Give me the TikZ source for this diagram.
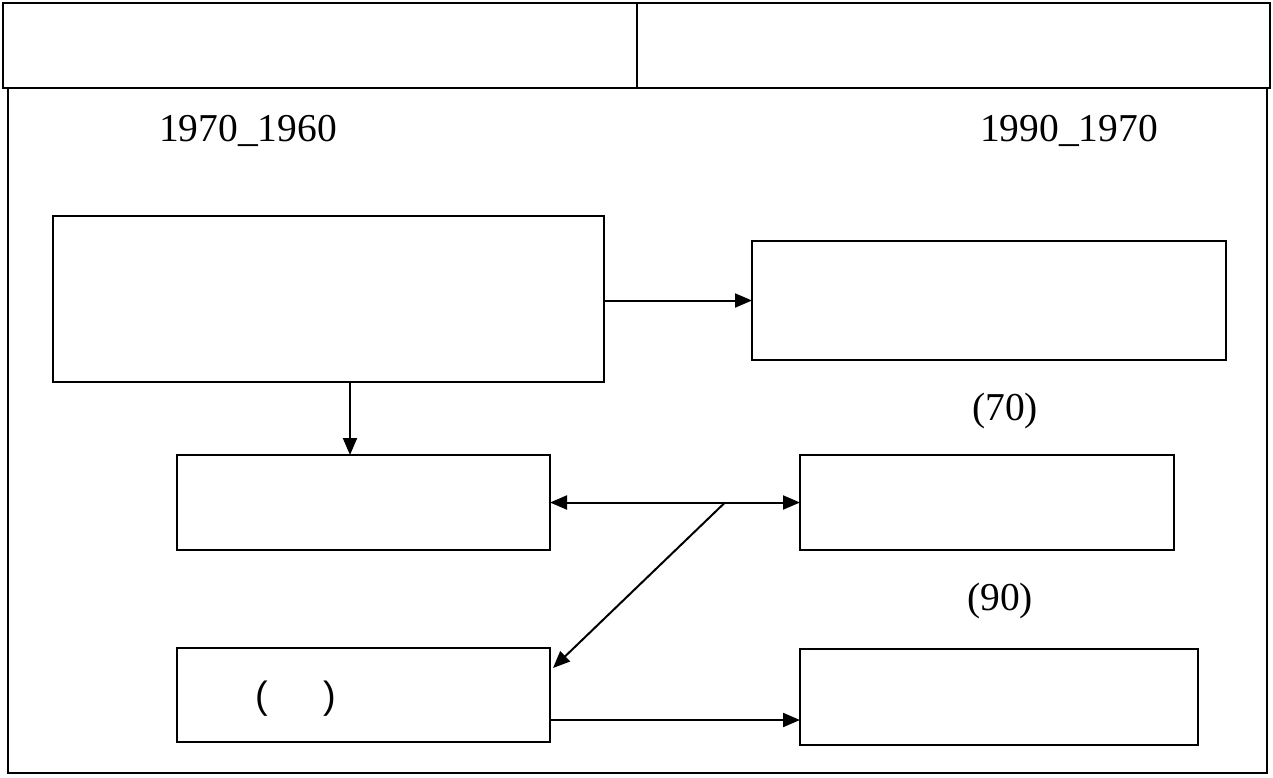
\documentclass[tikz,border=0pt]{standalone}
\usepackage{fontspec}
\setmainfont{Liberation Serif}
\newfontfamily\parenfont{Liberation Sans}
\usetikzlibrary{arrows.meta,calc}
\begin{document}
\begin{tikzpicture}[x=1pt,y=-1pt,
  frame/.style={line width=2pt},
  stagebox/.style={draw,line width=2pt,rectangle,inner sep=0pt,outer sep=0pt},
  label/.style={inner sep=0pt,font=\fontsize{39.5}{45}\selectfont},
  link/.style={line width=2pt,-{Triangle[length=17pt,width=14pt]}},
  dlink/.style={line width=2pt,{Triangle[length=17pt,width=14pt]}-{Triangle[length=17pt,width=14pt]}}]
\useasboundingbox (0,0) rectangle (1273,777);
% header row and outer frame
\draw[frame] (3,3) rectangle (1270,88);
\draw[frame] (637,3) -- (637,88);
\draw[frame] (8,88) rectangle (1267,773);
% period headings
\node[label] (h1) at (248,131) {1970\_1960};
\node[label] (h2) at (1069,131) {1990\_1970};
% boxes
\node[stagebox,minimum width=551pt,minimum height=166pt] (A) at (328.5,299) {};
\node[stagebox,minimum width=474pt,minimum height=119pt] (B) at (989,300.5) {};
\node[stagebox,minimum width=373pt,minimum height=95pt] (C) at (363.5,502.5) {};
\node[stagebox,minimum width=374pt,minimum height=95pt] (D) at (987,502.5) {};
\node[stagebox,minimum width=373pt,minimum height=94pt] (E) at (363.5,695) {};
\node[stagebox,minimum width=398pt,minimum height=96pt] (F) at (999,697) {};
% small labels
\node[label] (l70) at (1005,411) {(70)};
\node[label] (l90) at (1000,601) {(90)};
\node[inner sep=0pt,font=\parenfont\fontsize{38}{44}\selectfont] (pe) at (296,699) {(\hspace{56pt})};
% connectors
\coordinate (ctop) at (C.north -| 350,0);
\draw[link] (A.east |- B.west) -- (B.west);
\draw[link] (A.south -| ctop) -- (ctop);
\draw[dlink] (C.east) -- (D.west);
\coordinate (J) at (725,502.5);
\coordinate (Et) at ($(E.north east)+(3,20)$);
\draw[link] (J) -- (Et);
\draw[link] (E.east |- 0,720) -- (F.west |- 0,720);
\end{tikzpicture}
\end{document}
